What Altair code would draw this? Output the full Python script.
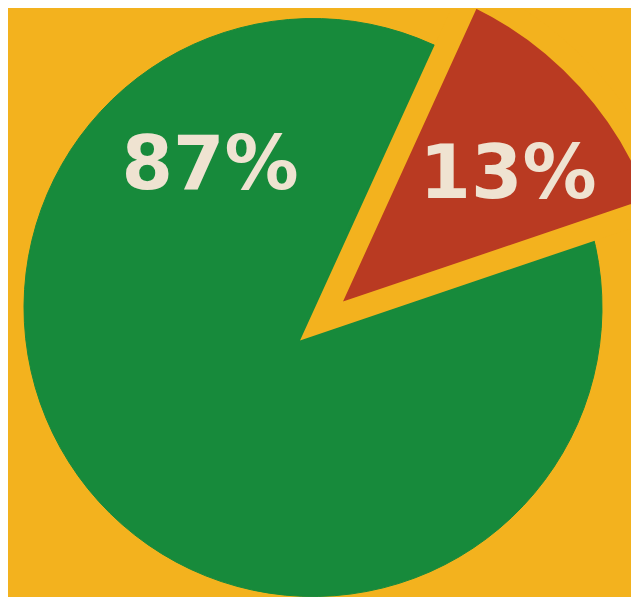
import math
import altair as alt
import pandas as pd

# Data
labels = ["13%", "87%"]
shares = [13, 87]

df = pd.DataFrame({"label": labels, "share": shares})

YELLOW = "#F3B21E"
GREEN = "#178A3B"
RED = "#B93A22"
CREAM = "#EFE3D1"

start = math.radians(24.5)
theta_scale = alt.Scale(domain=[0, 100], range=[start, start + 2 * math.pi])

# pie centre and the (slightly shifted) centre of the cut-out slice
pie_x, pie_y = alt.value(305), alt.value(299.5)
cut_x, cut_y = alt.value(313.5), alt.value(313)

base = alt.Chart(df).transform_stack(
    stack="share", as_=["s0", "s1"], groupby=[],
    sort=[alt.SortField("share", order="ascending")]
).transform_calculate(mid="(datum.s0 + datum.s1) / 2")

# whole pie in green (both slices)
pie = base.mark_arc(radius=289, color=GREEN, stroke=GREEN, strokeWidth=1).encode(
    theta=alt.Theta("s0:Q", scale=theta_scale),
    theta2="s1:Q",
    x=pie_x, y=pie_y,
)

# the 13% slice, cut out with a background-coloured border
red_arc = base.transform_filter("datum.label == '13%'").mark_arc(
    radius=360, color=RED, stroke=YELLOW, strokeWidth=23,
    strokeJoin="miter", strokeMiterLimit=10
).encode(
    theta=alt.Theta("s0:Q", scale=theta_scale),
    theta2="s1:Q",
    x=cut_x, y=cut_y,
)


def label_layer(label, radius, offset):
    return base.transform_filter(f"datum.label == '{label}'").mark_text(
        radius=radius, thetaOffset=offset, font="DejaVu Sans", fontWeight="bold",
        fontSize=74, color=CREAM, align="center", baseline="middle"
    ).encode(
        theta=alt.Theta("mid:Q", scale=theta_scale),
        text="label:N",
        x=pie_x, y=pie_y,
    )


green_text = label_layer("87%", 174, 1.672)
red_text = label_layer("13%", 235, 0.143)

chart = alt.layer(pie, red_arc, green_text, red_text).properties(
    width=623, height=589, background=YELLOW, padding=0,
    autosize=alt.AutoSizeParams(type="none")
).configure_view(stroke=None)

chart.save("out.html", embed_options={"renderer": "svg", "actions": False})
